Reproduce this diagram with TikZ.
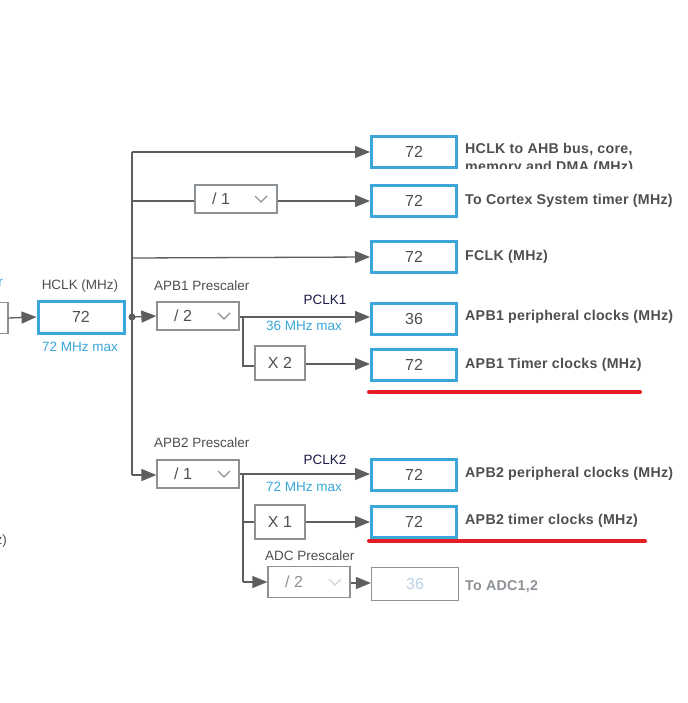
\documentclass[tikz,border=0pt]{standalone}
\usepackage{fontspec}
\setmainfont{Liberation Sans}
\usetikzlibrary{arrows.meta}
\definecolor{cy}{HTML}{3AA6DA}
\definecolor{bx}{HTML}{8C9196}
\definecolor{ln}{HTML}{5E5E5E}
\definecolor{tx}{HTML}{4F4F4F}
\definecolor{nv}{HTML}{1E1E4A}
\definecolor{rd}{HTML}{E31E24}
\definecolor{fade}{HTML}{BCD3E6}
\tikzset{
  outbox/.style={draw=cy,line width=3pt,minimum width=85pt,minimum height=31pt,inner sep=0pt,font=\fontsize{16}{18}\selectfont,text=tx},
  fadebox/.style={draw=bx,line width=1.3pt,minimum width=87pt,minimum height=33pt,inner sep=0pt,font=\fontsize{16}{18}\selectfont,text=fade},
  selbox/.style={draw=bx,line width=1.3pt,minimum width=82pt,minimum height=28pt,inner sep=0pt},
  mulbox/.style={draw=bx,line width=1.3pt,minimum width=50pt,minimum height=34pt,inner sep=0pt,font=\fontsize{16}{18}\selectfont,text=tx},
  lab/.style={anchor=west,inner sep=0pt,font=\addfontfeatures{LetterSpace=2}\bfseries\fontsize{14.2}{16}\selectfont,text=tx},
  small/.style={inner sep=0pt,font=\fontsize{13.5}{15}\selectfont,text=tx},
  big/.style={inner sep=0pt,anchor=west,font=\fontsize{16}{18}\selectfont,text=tx},
  maxlab/.style={inner sep=0pt,font=\fontsize{13.5}{15}\selectfont,text=cy},
  wire/.style={draw=ln,line width=1.3pt},
  arr/.style={wire,-{Triangle[length=15pt,width=12pt]}},
  chev/.style={draw=bx,line width=1.3pt},
  redline/.style={draw=rd,line width=4pt,line cap=round}
}
\begin{document}
\begin{tikzpicture}[x=1pt,y=-1pt]
\useasboundingbox (0,0) rectangle (687,703);
\fill[white] (0,0) rectangle (687,703);

% left cut-off pieces
\begin{scope}
\clip (0,0) rectangle (687,703);
\node[draw=bx,line width=1.3pt,minimum width=40pt,minimum height=31pt,inner sep=0pt] (src) at (-12,318) {};
\node[maxlab,anchor=east] (frag1) at (3,283) {r};
\node[small,anchor=east] (frag2) at (7,541) {Hz)};
\end{scope}

% HCLK
\node[outbox,minimum width=86pt,minimum height=32pt] (hclk) at (81,317) {72};
\node[small] (hclklab) at (80,286) {HCLK (MHz)};
\node[maxlab] (hclkmax) at (80,347) {72 MHz max};
\draw[arr] (src.east) -- (hclk.west);

% bus
\coordinate (dot) at (132,317);
\coordinate (btop) at (132,152);
\coordinate (bbot) at (132,475);
\draw[wire] (btop) -- (bbot);
\fill[ln] (dot) circle (3.5pt);

% outputs
\node[outbox] (o1) at (414,152) {72};
\node[outbox] (o2) at (414,201) {72};
\node[outbox] (o3) at (414,257) {72};
\node[outbox] (o4) at (414,319) {36};
\node[outbox] (o5) at (414,365) {72};
\node[outbox] (o6) at (414,475) {72};
\node[outbox] (o7) at (414,522) {72};
\node[fadebox] (o8) at (415,584) {36};

% labels
\begin{scope}
\clip (460,130) rectangle (687,169);
\node[lab] (l1a) at (465,149) {HCLK to AHB bus, core,};
\node[lab] (l1b) at (465,168) {memory and DMA (MHz)};
\end{scope}
\node[lab] (l2) at (465,201) {To Cortex System timer (MHz)};
\node[lab] (l3) at (465,257) {FCLK (MHz)};
\node[lab] (l4) at (465,317) {APB1 peripheral clocks (MHz)};
\node[lab] (l5) at (465,365) {APB1 Timer clocks (MHz)};
\node[lab] (l6) at (465,474) {APB2 peripheral clocks (MHz)};
\node[lab] (l7) at (465,521) {APB2 timer clocks (MHz)};
\node[lab,text=bx] (l8) at (465,587) {To ADC1,2};

% top branches
\draw[arr] (btop) -- (o1.west);
\node[selbox] (div1) at (236,199) {};
\node[big] (div1t) at (212,199) {/ 1};
\draw[chev] (255,196) -- (261,202) -- (267,196);
\draw[wire] (132,201) -- (div1.west |- 0,201);
\draw[arr] (div1.east |- 0,201) -- (o2.west);
\draw[arr] (132,258) -- (o3.west);

% APB1
\node[small,anchor=west] (apb1lab) at (154,286) {APB1 Prescaler};
\node[selbox] (apb1) at (198,316) {};
\node[big] (apb1t) at (174,316) {/ 2};
\draw[chev] (218,313) -- (224,319) -- (230,313);
\draw[arr] (dot) -- (apb1.west);
\draw[arr] (apb1.east |- 0,317) -- (o4.west |- 0,317);
\node[small,text=nv] (pclk1) at (325,300) {PCLK1};
\node[maxlab] (max1) at (304,326) {36 MHz max};
\node[mulbox] (x2) at (280,363) {X 2};
\draw[wire] (243,317) -- (243,366) -- (x2.west |- 0,366);
\draw[arr] (x2.east |- 0,364) -- (o5.west |- 0,364);
\draw[redline] (369,392) -- (640,392);

% APB2
\node[small,anchor=west] (apb2lab) at (154,443) {APB2 Prescaler};
\node[selbox] (apb2) at (198,474) {};
\node[big] (apb2t) at (174,474) {/ 1};
\draw[chev] (218,471) -- (224,477) -- (230,471);
\draw[arr] (bbot) -- (apb2.west |- 0,475);
\draw[arr] (apb2.east |- 0,474) -- (o6.west |- 0,474);
\node[small,text=nv] (pclk2) at (325,460) {PCLK2};
\node[maxlab] (max2) at (304,487) {72 MHz max};
\node[mulbox] (x1) at (280,522) {X 1};
\draw[wire] (243,474) -- (243,582);
\draw[wire] (243,522) -- (x1.west);
\draw[arr] (x1.east) -- (o7.west);
\draw[redline] (369,541) -- (645,541);

% ADC
\node[small,anchor=west] (adclab) at (265,556) {ADC Prescaler};
\node[selbox,minimum height=31pt] (adc) at (309,582) {};
\node[big,text=bx] (adct) at (285,582) {/ 2};
\draw[draw=bx!40,line width=1.3pt] (329,579) -- (335,585) -- (341,579);
\draw[arr] (243,582) -- (adc.west);
\draw[arr] (adc.east |- 0,583) -- (o8.west |- 0,583);
\end{tikzpicture}
\end{document}
